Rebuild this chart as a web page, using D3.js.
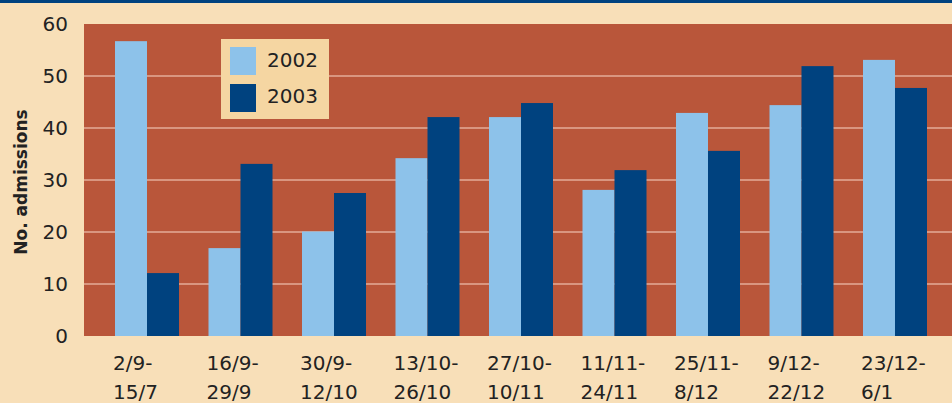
<!DOCTYPE html>
<html>
<head>
<meta charset="utf-8">
<script src="https://cdn.jsdelivr.net/npm/d3@7"></script>
<style>
html,body{margin:0;padding:0;background:#F8DFB8;}
svg{display:block;}
text{font-family:"DejaVu Sans",Verdana,sans-serif;fill:#222;}
</style>
</head>
<body>
<svg id="chart" width="952" height="403"></svg>
<script>
const categories = ["2/9-|15/7","16/9-|29/9","30/9-|12/10","13/10-|26/10","27/10-|10/11","11/11-|24/11","25/11-|8/12","9/12-|22/12","23/12-|6/1"];
const seriesNames = ["2002","2003"];
const values2002 = [56.7, 16.9, 20.1, 34.2, 42.1, 28.1, 42.9, 44.4, 53.1];
const values2003 = [12.1, 33.1, 27.5, 42.1, 44.8, 31.9, 35.6, 51.9, 47.7];
const yTicks = [0, 10, 20, 30, 40, 50, 60];
const colors = ["#8DC2EA", "#00427F"];

const W = 952, H = 403;
const svg = d3.select("#chart");

svg.append("rect").attr("x",0).attr("y",0).attr("width",W).attr("height",H).attr("fill","#F8DFB8");
svg.append("rect").attr("x",0).attr("y",0).attr("width",W).attr("height",3).attr("fill","#00427F");

const plotL = 84, plotR = 958, plotT = 24, plotB = 336;
const x = d3.scaleBand().domain(categories).range([plotL, plotR]).paddingInner(0.3155).paddingOuter(0.3316);
const xs = d3.scaleBand().domain(seriesNames).range([0, x.bandwidth()]);
const y = d3.scaleLinear().domain([0, 60]).range([plotB, plotT]);

svg.append("rect").attr("x",plotL).attr("y",plotT).attr("width",W-plotL).attr("height",plotB-plotT).attr("fill","#B9563A");

// gridlines
svg.append("g").selectAll("line").data(yTicks.filter(t => t > 0 && t < 60)).join("line")
  .attr("x1", plotL).attr("x2", W)
  .attr("y1", d => y(d)).attr("y2", d => y(d))
  .attr("stroke", "#D99680").attr("stroke-width", 2);

// bars
const data = categories.map((c,i) => ({cat:c, vals:[values2002[i], values2003[i]]}));
const groups = svg.append("g").selectAll("g").data(data).join("g")
  .attr("transform", d => `translate(${x(d.cat)},0)`);
groups.selectAll("rect").data(d => d.vals.map((v,j) => ({s:seriesNames[j], v, j}))).join("rect")
  .attr("x", d => xs(d.s)).attr("width", xs.bandwidth())
  .attr("y", d => y(d.v)).attr("height", d => y(0) - y(d.v))
  .attr("fill", d => colors[d.j]);

// y tick labels
svg.append("g").selectAll("text").data(yTicks).join("text")
  .attr("x", 68).attr("y", d => y(d)).attr("dy", "0.36em")
  .attr("text-anchor", "end").attr("font-size", 20).text(d => d);

// x labels
const xl = svg.append("g").selectAll("text").data(categories).join("text")
  .attr("font-size", 20).attr("text-anchor", "start");
xl.each(function(d){
  const parts = d.split("|");
  const t = d3.select(this);
  t.append("tspan").attr("x", x(d) - 2).attr("y", 370).text(parts[0]);
  t.append("tspan").attr("x", x(d) - 2).attr("y", 399).text(parts[1]);
});

// axis title
svg.append("text").attr("transform", "translate(27,182) rotate(-90)")
  .attr("text-anchor", "middle").attr("font-size", 17).attr("font-weight", "bold")
  .text("No. admissions");

// legend
const lg = svg.append("g");
lg.append("rect").attr("x",221).attr("y",39).attr("width",108).attr("height",80).attr("fill","#F5D6A2");
seriesNames.forEach((s,i) => {
  lg.append("rect").attr("x",230).attr("y",47 + i*37).attr("width",26).attr("height",28).attr("fill",colors[i]);
  lg.append("text").attr("x",267).attr("y",67 + i*36).attr("font-size",20).text(s);
});
</script>
</body>
</html>
